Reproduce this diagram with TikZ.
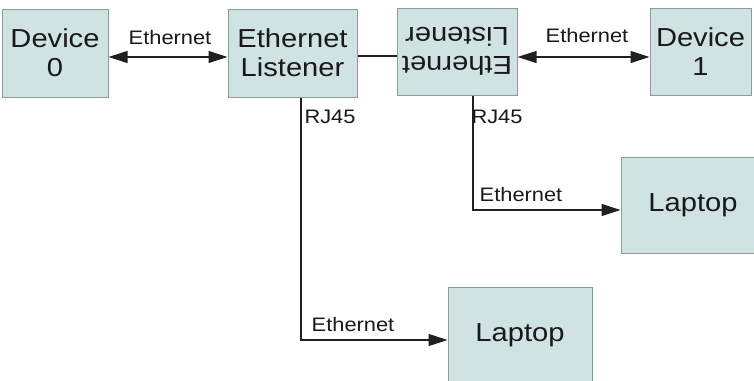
\documentclass[tikz,border=0pt]{standalone}
\usepackage{fontspec}
\setmainfont[FakeStretch=1.12]{Liberation Sans}
\usetikzlibrary{arrows.meta}
\definecolor{boxfill}{HTML}{D0E3E3}
\definecolor{boxline}{HTML}{8C9A9A}
\definecolor{lineclr}{HTML}{202020}
\tikzset{
  unit/.style={draw=boxline, fill=boxfill, line width=1pt, inner sep=0pt, align=center,
    text=black!90, font=\fontsize{26}{29}\selectfont},
  lbl/.style={font=\fontsize{19.5}{21}\selectfont, inner sep=0pt, text=black!90},
  wire/.style={draw=lineclr, line width=1.1pt},
  tip/.style={-{Triangle[length=19pt,width=12pt]}},
  tips/.style={{Triangle[length=19pt,width=12pt]}-{Triangle[length=19pt,width=12pt]}}
}
\begin{document}
\begin{tikzpicture}[x=1pt,y=-1pt]
\useasboundingbox (0,0) rectangle (754,380);
\clip (0,0) rectangle (754,380);
\fill[white] (0,0) rectangle (754,380);
\node[unit, minimum width=106pt, minimum height=88pt] (d0) at (55,53) {Device\\0};
\node[unit, minimum width=129pt, minimum height=88pt] (l0) at (292.5,53) {Ethernet\\Listener};
\node[unit, minimum width=120pt, minimum height=87pt, rotate=180] (l1) at (457,51.5) {Ethernet\\Listener};
\node[unit, minimum width=101pt, minimum height=87pt] (d1) at (700.5,51.5) {Device\\1};
\node[unit, minimum width=144pt, minimum height=96pt] (lap1) at (693,205) {Laptop};
\node[unit, minimum width=144pt, minimum height=96pt] (lap2) at (520,335) {Laptop};
\coordinate (a0) at (0,57);
\draw[wire, tips] (d0.east |- a0) -- (l0.west |- a0);
\coordinate (a1) at (0,56);
\draw[wire] (l0.east |- a1) -- (l1.east |- a1);
\coordinate (a2) at (0,57);
\draw[wire, tips] (l1.west |- a2) -- (d1.west |- a2);
\coordinate (c1) at (473,210);
\draw[wire, tip] (l1.north -| c1) -- (c1) -- (lap1.west |- c1);
\coordinate (c2) at (301,340);
\draw[wire, tip] (l0.south -| c2) -- (c2) -- (lap2.west |- c2);
\node[lbl] (e0) at (170,38) {Ethernet};
\node[lbl] (e1) at (587,36) {Ethernet};
\node[lbl] (r0) at (330,117) {RJ45};
\node[lbl] (r1) at (497,117) {RJ45};
\node[lbl] (e2) at (521,195) {Ethernet};
\node[lbl] (e3) at (353,325) {Ethernet};
\end{tikzpicture}
\end{document}
